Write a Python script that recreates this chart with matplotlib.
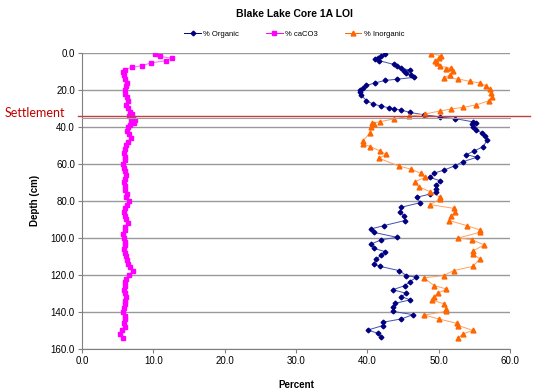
import matplotlib
matplotlib.use("Agg")
import matplotlib.pyplot as plt
from matplotlib.lines import Line2D

plt.rcParams['font.family'] = ['Liberation Sans', 'DejaVu Sans']

# depths (cm) and values (%)
org_depth = [0.5, 1.6, 2.5, 3.4, 4.2, 6.2, 7.0, 8.2, 9.3, 10.0, 11.0, 12.0, 13.2, 14.2, 14.9,
             16.2, 17.6, 18.9, 20.0, 21.3, 23.0, 25.8, 27.6, 28.7, 29.6, 30.2, 30.9, 32.2,
             33.4, 34.6, 35.5, 37.3, 38.0, 38.5, 40.3, 41.5, 43.4, 44.9, 47.0, 50.6, 53.0,
             55.0, 56.4, 58.8, 61.0, 63.3, 65.1, 67.3, 69.1, 71.5, 73.5, 75.4, 76.3, 78.0,
             81.0, 83.4, 85.8, 88.0, 90.6, 93.4, 95.1, 97.0, 99.7, 101.0, 103.2, 105.6,
             107.4, 109.2, 111.4, 114.1, 115.4, 117.7, 120.4, 121.3, 123.6, 125.8, 128.0,
             130.0, 131.7, 133.5, 135.4, 137.5, 139.7, 141.5, 143.8, 145.6, 147.4, 149.8,
             151.6, 153.7]
organic = [42.5, 42.0, 41.5, 41.1, 41.7, 43.7, 44.2, 44.7, 46.0, 45.1, 45.5, 46.2, 46.6, 44.2, 42.5,
           41.1, 39.9, 39.4, 39.0, 39.0, 39.2, 39.9, 40.8, 41.9, 43.0, 43.8, 44.8, 46.0,
           47.9, 50.2, 52.3, 54.9, 55.2, 54.7, 54.9, 55.3, 56.1, 56.5, 56.8, 56.3, 55.0,
           53.9, 55.4, 53.4, 52.3, 50.8, 49.3, 48.8, 50.2, 49.7, 49.7, 49.7, 48.8, 47.0,
           47.4, 44.8, 44.6, 45.1, 45.3, 42.3, 40.6, 40.9, 44.2, 42.0, 40.6, 40.9,
           42.5, 42.0, 41.3, 40.9, 41.8, 44.5, 45.5, 46.9, 46.0, 45.3, 43.6,
           45.5, 44.8, 46.0, 43.9, 43.6, 43.6, 46.4, 44.8, 42.2, 42.2, 40.1,
           41.5, 42.0]

inorg_depth = [0.5, 1.5, 2.5, 4.2, 5.5, 7.2, 8.3, 8.6, 10.0, 11.9, 13.5, 14.1, 15.4, 16.2, 18.0,
               19.5, 21.6, 24.0, 25.8, 28.1, 29.4, 30.3, 31.4, 33.0, 34.3, 35.7, 37.2, 38.0,
               38.4, 40.0, 43.4, 47.4, 49.2, 50.6, 53.0, 54.8, 57.0, 61.1, 62.9, 65.1, 67.3,
               69.6, 72.3, 75.0, 78.0, 79.0, 82.0, 84.0, 86.2, 88.0, 90.6, 93.4, 95.7, 97.0,
               100.0, 101.0, 103.8, 106.9, 108.6, 111.4, 115.4, 117.7, 120.4, 121.6, 125.8,
               127.6, 130.0, 131.7, 133.5, 135.7, 138.4, 139.7, 141.7, 143.8, 146.2, 147.4,
               150.0, 152.0, 154.0]
inorganic = [49.0, 50.4, 50.0, 49.5, 49.8, 50.2, 51.8, 51.1, 52.0, 51.6, 50.7, 52.8, 54.4, 55.8, 56.7,
             57.2, 57.4, 57.5, 57.1, 55.3, 53.5, 51.8, 50.2, 48.1, 45.8, 43.7, 41.8, 40.7,
             40.9, 40.6, 40.4, 39.4, 39.4, 40.4, 41.8, 42.6, 41.7, 44.4, 46.2, 47.5, 48.1,
             46.7, 47.2, 48.8, 50.2, 50.2, 48.8, 52.1, 52.3, 51.8, 51.5, 54.0, 55.8, 55.8,
             52.8, 54.7, 56.4, 54.9, 54.8, 55.8, 54.8, 52.1, 50.7, 47.9, 49.4,
             51.1, 49.9, 49.3, 49.1, 50.8, 51.1, 51.1, 48.0, 50.0, 52.6, 52.8,
             54.8, 53.4, 52.8]

caco3_depth = [0.5, 1.8, 2.9, 4.2, 5.4, 6.9, 7.8, 9, 10.5, 12, 14, 16, 18, 20, 22, 24, 26, 28,
               30, 32, 33, 34, 35, 36, 37, 38, 39, 40, 42, 44, 46, 48, 50, 52, 54, 56, 58, 60,
               62, 64, 66, 68, 70, 72, 74, 76, 78, 80, 82, 84, 86, 88, 90, 92, 94, 96, 98, 100,
               102, 104, 106, 108, 110, 112, 114, 116, 118, 120, 122, 124, 126, 128, 130, 132,
               134, 136, 138, 140, 142, 144, 146, 148, 150, 152, 154]
caco3 = [10.2, 10.9, 12.6, 11.8, 9.7, 8.4, 7.0, 6.0, 5.8, 5.9, 6.1, 6.3, 6.2, 6.0, 6.1, 6.3, 6.4, 6.2,
         6.5, 6.8, 7.0, 6.6, 7.2, 7.4, 6.9, 7.3, 6.8, 6.5, 6.3, 6.6, 6.9, 6.4, 6.2, 6.0, 5.9, 6.1, 6.0, 5.8,
         5.9, 6.0, 6.2, 6.1, 5.9, 6.0, 6.1, 6.3, 6.2, 6.6, 6.3, 6.1, 5.9, 6.0, 6.2, 6.4, 6.1, 6.0, 5.8, 5.9,
         6.1, 6.0, 5.9, 6.1, 6.2, 6.3, 6.5, 6.8, 7.1, 6.6, 6.2, 6.0, 6.1, 5.9, 6.0, 6.2,
         6.1, 6.0, 5.9, 5.8, 6.0, 6.1, 5.9, 6.0, 5.6, 5.4, 5.8]

settlement_depth = 34

fig = plt.figure(figsize=(5.35, 3.92), dpi=100)
ax = fig.add_axes([0.153, 0.110, 0.800, 0.755])

# gridlines
for d in range(0, 161, 20):
    ax.axhline(d, color='#999999', lw=1.0, zorder=1)

ax.plot(organic, org_depth, color='#4050b0', lw=0.7, zorder=3)
ax.plot(organic, org_depth, ls='none', marker='D', ms=2.4, color='#000080', zorder=4)
ax.plot(caco3, caco3_depth, color='#ff66ff', lw=0.7, zorder=3)
ax.plot(caco3, caco3_depth, ls='none', marker='s', ms=3.3, color='#ff00ff', zorder=4)
ax.plot(inorganic, inorg_depth, color='#ffa060', lw=0.7, zorder=3)
ax.plot(inorganic, inorg_depth, ls='none', marker='^', ms=3.5, color='#ff6600', zorder=4)

ax.set_xlim(0, 60)
ax.set_ylim(160, 0)
ax.set_xticks(range(0, 61, 10))
ax.set_yticks(range(0, 161, 20))
ax.set_xticklabels([f"{v:.1f}" for v in range(0, 61, 10)])
ax.set_yticklabels([f"{v:.1f}" for v in range(0, 161, 20)])
ax.tick_params(labelsize=7, length=3, width=0.8, color='#808080', pad=2)
for s in ['top', 'right']:
    ax.spines[s].set_visible(False)
for s in ['left', 'bottom']:
    ax.spines[s].set_color('#808080')

ax.set_xlabel("Percent", fontsize=7, fontweight='bold', labelpad=10)
ax.set_ylabel("Depth (cm)", fontsize=7, fontweight='bold', labelpad=8)

fig.text(0.55, 0.965, "Blake Lake Core 1A LOI", ha='center', va='center',
         fontsize=7.5, fontweight='bold')

handles = [
    Line2D([], [], color='#000080', marker='D', ms=2.4, lw=0.7, label='% Organic'),
    Line2D([], [], color='#ff00ff', marker='s', ms=3.3, lw=0.7, label='% caCO3'),
    Line2D([], [], color='#ff6600', marker='^', ms=3.5, lw=0.7, label='% Inorganic'),
]
fig.legend(handles=handles, loc='center', bbox_to_anchor=(0.55, 0.913), ncol=3,
           frameon=False, fontsize=5.5, handlelength=2.2, columnspacing=3.5,
           handletextpad=0.3)

# settlement line
y_set = ax.transData.transform((0, settlement_depth))[1] / fig.bbox.height
fig.add_artist(Line2D([0.145, 0.99], [y_set, y_set], color='#c04040', lw=1.0, zorder=5))
fig.add_artist(Line2D([0.153, 0.953], [y_set - 0.006, y_set - 0.006], color='#a0a0a0', lw=0.8))
fig.text(0.008, y_set + 0.006, "Settlement", color='#c00000', fontsize=9,
         family=['Lato', 'DejaVu Sans'], ha='left', va='center')

fig.savefig("out.png", dpi=100)
